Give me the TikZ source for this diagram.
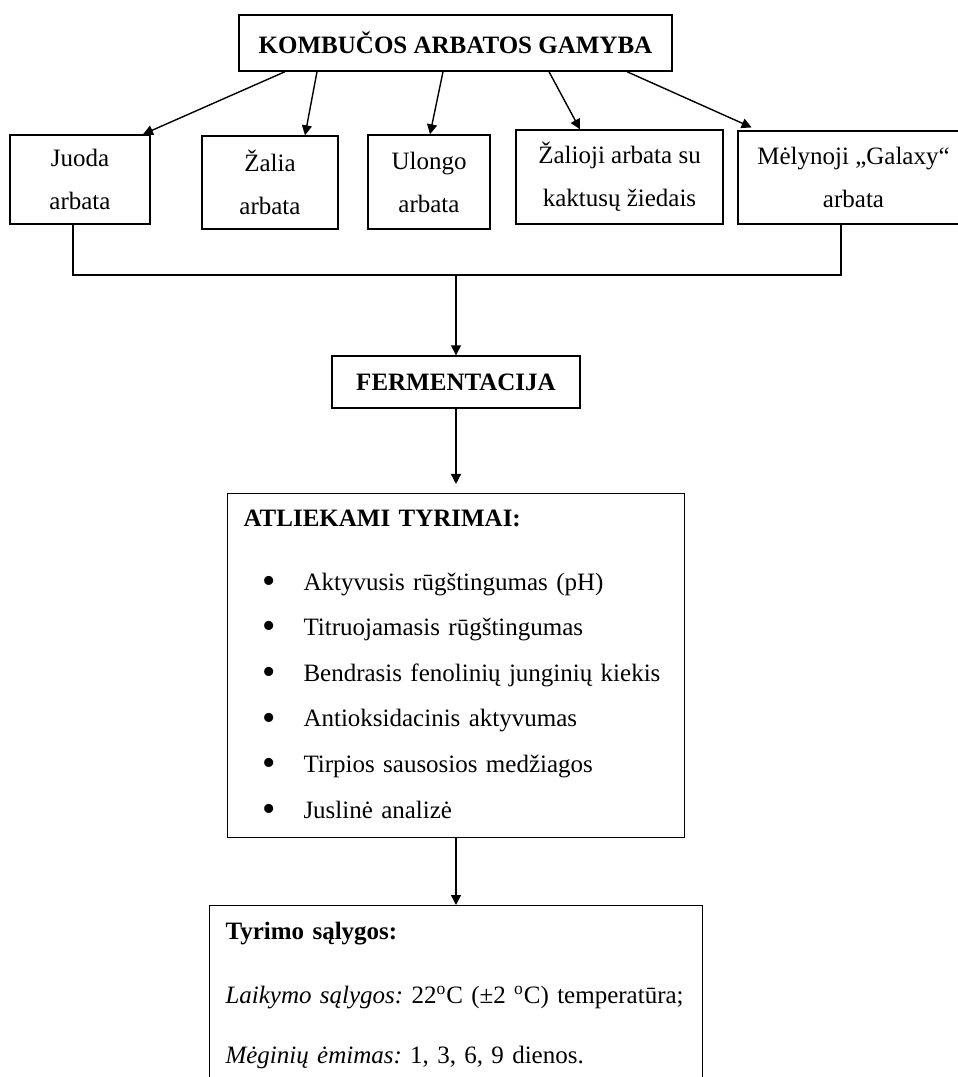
\documentclass[tikz,border=0pt]{standalone}
\usepackage{fontspec}
\setmainfont{Liberation Serif}
\usetikzlibrary{arrows.meta}
\newcommand{\listdot}{\hspace*{9.5pt}\makebox[20.5pt][l]{\raisebox{-1.6pt}{\fontsize{19}{19}\selectfont •}}}

\begin{document}
\begin{tikzpicture}[x=0.5pt,y=-0.5pt,
  box node/.style={rectangle,draw,line width=0.7pt,inner sep=0pt,align=center,font=\fontsize{12.5}{21.5}\selectfont},
  list node/.style={rectangle,draw,line width=0.7pt,inner xsep=8pt,inner ysep=8pt,align=left,font=\fontsize{12.5}{22.8}\selectfont\frenchspacing},
  arrow line/.style={-{Triangle[length=5pt,width=5pt]},line width=0.7pt}]
  \clip (0,0) rectangle (958,1077);

  \path  (455.5,43)  node[box node,minimum width=216.5pt,minimum height=28pt] (gamyba) {\textbf{KOMBUČOS ARBATOS GAMYBA}}
         (80,179.5)  node[box node,minimum width=70pt,minimum height=44.5pt] (juoda) {Juoda\\arbata}
         (270,182.5) node[box node,minimum width=68pt,minimum height=46.5pt] (zalia) {Žalia\\arbata}
         (429,182)   node[box node,minimum width=61pt,minimum height=47pt] (ulongo) {Ulongo\\arbata}
         (619.5,177) node[box node,minimum width=103.5pt,minimum height=47pt] (kaktusu) {Žalioji arbata su\\kaktusų žiedais}
         (853.5,177.5) node[box node,minimum width=115.5pt,minimum height=46.5pt] (melynoji) {Mėlynoji „Galaxy“\\arbata}
         (456,382)   node[box node,minimum width=124pt,minimum height=26pt] (ferm) {\textbf{FERMENTACIJA}}
         (456,665.5) node[list node,text width=212.5pt,minimum height=171.5pt] (tyrimai) {\textbf{ATLIEKAMI TYRIMAI:}\\[9.2pt]
            \listdot Aktyvusis rūgštingumas (pH)\\
            \listdot Titruojamasis rūgštingumas\\
            \listdot Bendrasis fenolinių junginių kiekis\\
            \listdot Antioksidacinis aktyvumas\\
            \listdot Tirpios sausosios medžiagos\\
            \listdot Juslinė analizė}
         (456,905)   node[list node,anchor=north,text width=230.5pt] (salygos) {\textbf{Tyrimo sąlygos:}\\[9.5pt]
            \mbox{\textit{Laikymo sąlygos:} 22\textsuperscript{o}C (±2 \textsuperscript{o}C) temperatūra;}\\[7pt]
            \mbox{\textit{Mėginių ėmimas:} 1, 3, 6, 9 dienos.}};
  \coordinate (join) at (456,275);

  \path[arrow line]
         (gamyba.south -| 285,0) edge (juoda.north -| 143,0)
         (gamyba.south -| 317,0) edge (zalia.north -| 305,0)
         (gamyba.south -| 443,0) edge (ulongo.north -| 430,0)
         (gamyba.south -| 549,0) edge (kaktusu.north -| 580,0)
         (gamyba.south -| 627,0) edge[shorten >=3.5pt] (melynoji.north -| 758,0);

  \draw[line width=0.7pt] (juoda.south -| 73,0) |- (join) -| (melynoji.south -| 841,0);

  \path[arrow line]
         (join) edge (ferm)
         (ferm) edge[shorten >=4.5pt] (tyrimai)
         (tyrimai) edge (salygos);
\end{tikzpicture}
\end{document}
